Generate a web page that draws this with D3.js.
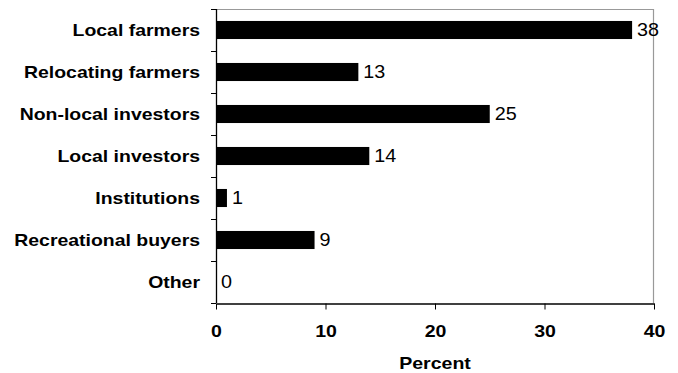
<!DOCTYPE html>
<html>
<head>
<meta charset="utf-8">
<script src="https://cdn.jsdelivr.net/npm/d3@7"></script>
<style>
  html, body { margin: 0; padding: 0; background: #fff; }
  svg { display: block; font-family: "Liberation Sans", Arial, sans-serif; }
</style>
</head>
<body>
<svg id="chart" width="678" height="373"></svg>
<script>
// Buyer categories and their share of purchases (percent)
const categories = ["Local farmers", "Relocating farmers", "Non-local investors", "Local investors", "Institutions", "Recreational buyers", "Other"];
const percents = [38, 13, 25, 14, 1, 9, 0];
const xTicks = [0, 10, 20, 30, 40];
const xTitle = "Percent";

const svg = d3.select("#chart");
const plot = { left: 216, right: 654, top: 9, bottom: 303 };
const sx = 1.13; // horizontal stretch of the lettering

const x = d3.scaleLinear().domain([0, 40]).range([plot.left, plot.right]);
const y = d3.scaleBand().domain(categories).range([plot.top, plot.bottom]).paddingInner(0.57).paddingOuter(0.285);
const band = d3.scaleBand().domain(categories).range([plot.top, plot.bottom]);

// Plot frame: grey top and right edges
svg.append("path")
  .attr("d", `M${plot.left},${plot.top + 0.5}H${plot.right - 0.5}V${plot.bottom}`)
  .attr("fill", "none").attr("stroke", "#999").attr("stroke-width", 1.2);

// Bars
svg.append("g").selectAll("rect").data(categories).join("rect")
  .attr("x", plot.left)
  .attr("y", d => y(d))
  .attr("width", (d, i) => x(percents[i]) - plot.left)
  .attr("height", y.bandwidth())
  .attr("fill", "#000");

// Value labels
svg.append("g").selectAll("text").data(categories).join("text")
  .attr("transform", (d, i) => `translate(${x(percents[i]) + 5},${band(d) + band.bandwidth() / 2 + 6}) scale(${sx},1)`)
  .attr("font-size", 17.5)
  .attr("fill", "#000")
  .text((d, i) => percents[i]);

// Left axis: ticks sit on category boundaries
const yAxis = svg.append("g");
yAxis.append("line")
  .attr("x1", plot.left + 0.5).attr("x2", plot.left + 0.5)
  .attr("y1", plot.top).attr("y2", plot.bottom)
  .attr("stroke", "#000").attr("stroke-width", 1.3);
const bounds = categories.map(d => band(d)).concat([plot.bottom]);
yAxis.selectAll(".tk").data(bounds).join("line")
  .attr("x1", plot.left - 5).attr("x2", plot.left)
  .attr("y1", d => Math.round(d) + 0.5).attr("y2", d => Math.round(d) + 0.5)
  .attr("stroke", "#000");
yAxis.selectAll("text").data(categories).join("text")
  .attr("transform", d => `translate(${plot.left - 16},${band(d) + band.bandwidth() / 2 + 6}) scale(${sx},1)`)
  .attr("text-anchor", "end")
  .attr("font-size", 17.2).attr("font-weight", "bold")
  .text(d => d);

// Bottom axis
const xAxis = svg.append("g")
  .attr("transform", `translate(0,${plot.bottom + 0.5})`)
  .call(d3.axisBottom(x).tickValues(xTicks).tickSize(6).tickSizeOuter(0));
xAxis.select(".domain").attr("stroke-width", 1.3);
xAxis.selectAll(".tick text")
  .attr("y", 0).attr("dy", 0)
  .attr("transform", `translate(0,33.5) scale(${sx},1)`)
  .attr("font-size", 17.3).attr("font-weight", "bold")
  .attr("font-family", "Liberation Sans, Arial, sans-serif");

svg.append("text")
  .attr("transform", `translate(${(plot.left + plot.right) / 2},369) scale(${sx},1)`)
  .attr("text-anchor", "middle")
  .attr("font-size", 17.3).attr("font-weight", "bold")
  .text(xTitle);
</script>
</body>
</html>
